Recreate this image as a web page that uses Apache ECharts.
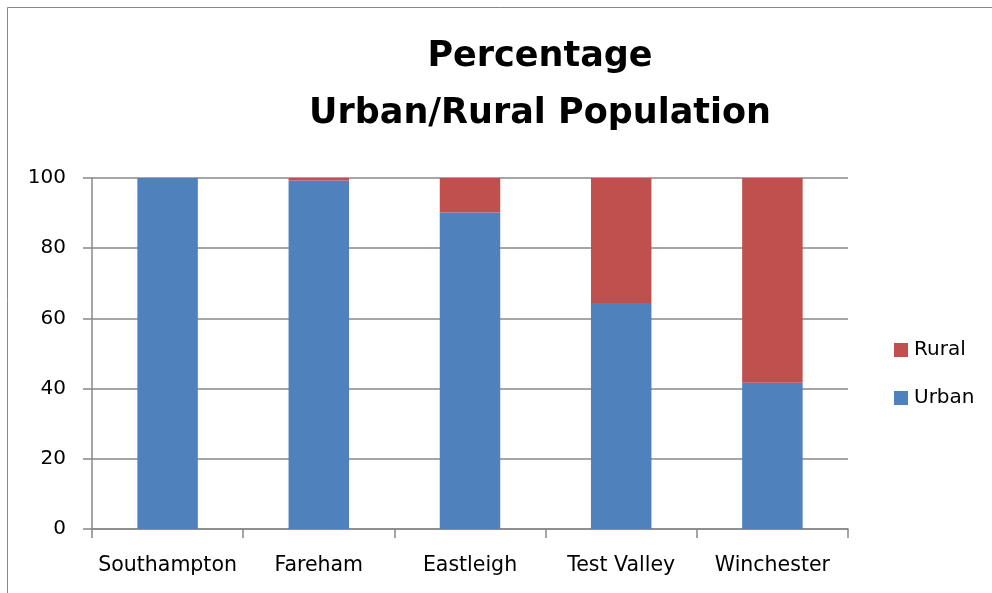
<!DOCTYPE html>
<html><head><meta charset="utf-8">
<script src="https://cdn.jsdelivr.net/npm/echarts@6/dist/echarts.min.js"></script>
<style>html,body{margin:0;padding:0;background:#fff}#c{width:992px;height:593px}</style>
</head><body><div id="c"></div>
<script>
const categories = ['Southampton','Fareham','Eastleigh','Test Valley','Winchester'];
const urban = [100, 99.3, 90.2, 64.4, 41.7];
const rural = [0, 0.7, 9.8, 35.6, 58.3];
const yTicks = [0, 20, 40, 60, 80, 100];
const FONT = '"DejaVu Sans", sans-serif';
const chart = echarts.init(document.getElementById('c'), null, {renderer:'canvas'});
chart.setOption({
  animation:false,
  backgroundColor:'#fff',
  graphic:[{type:'rect',shape:{x:7.5,y:7.5,width:990,height:600},style:{fill:'none',stroke:'#888',lineWidth:1}}],
  title:{text:'Percentage\nUrban/Rural Population',left:535,textAlign:'center',top:23,
    textStyle:{fontFamily:FONT,fontSize:35,fontWeight:'bold',color:'#000',lineHeight:57}},
  legend:{orient:'vertical',left:889,top:335,itemWidth:14,itemHeight:14,itemGap:28,
    data:['Rural','Urban'],icon:'rect',
    textStyle:{fontFamily:FONT,fontSize:20,color:'#000',padding:[0,0,0,1]}},
  grid:{left:92,right:144,top:178,bottom:64,containLabel:false},
  xAxis:{type:'category',data:categories,
    axisLine:{lineStyle:{color:'#888',width:1.5}},
    axisTick:{show:true,length:9,lineStyle:{color:'#888',width:1.5}},
    axisLabel:{interval:0,fontFamily:FONT,fontSize:20.5,color:'#000',margin:26}},
  yAxis:{type:'value',min:0,max:100,interval:20,
    axisLine:{show:true,lineStyle:{color:'#888',width:1.5}},
    axisTick:{show:true,length:9,lineStyle:{color:'#888',width:1.5}},
    splitLine:{lineStyle:{color:'#888',width:1.5}},
    axisLabel:{fontFamily:FONT,fontSize:20,color:'#000',margin:26,
      formatter:v=>yTicks.includes(v)?String(v):''}},
  series:[
    {name:'Urban',type:'bar',stack:'a',data:urban,barWidth:'40%',itemStyle:{color:'#4F81BD'}},
    {name:'Rural',type:'bar',stack:'a',data:rural,barWidth:'40%',itemStyle:{color:'#C0504D'}}
  ]
});
</script></body></html>
